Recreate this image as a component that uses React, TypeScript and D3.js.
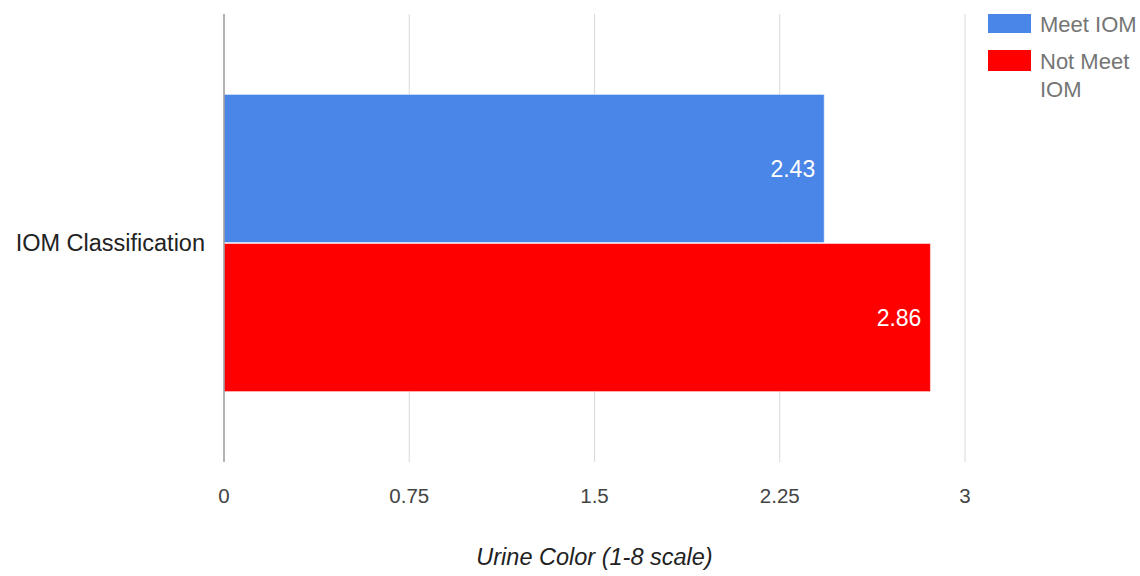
import React from "react";
import * as d3 from "d3";

const categories = ["IOM Classification"];
const seriesNames = ["Meet IOM", "Not Meet IOM"];
const seriesValues = [2.43, 2.86];
const seriesColors = ["#4a86e8", "#ff0000"];
const tickValues = [0, 0.75, 1.5, 2.25, 3];
const xTitle = "Urine Color (1-8 scale)";

const W = 1140;
const H = 576;
const plot = { left: 224, right: 965, top: 14, bottom: 462 };
const FONT = "'Liberation Sans', Arial, sans-serif";

export default function App() {
  const x = d3.scaleLinear().domain([0, 3]).range([plot.left, plot.right]);
  const y = d3
    .scaleBand<string>()
    .domain(categories)
    .range([plot.top, plot.bottom + 10])
    .paddingInner(0)
    .paddingOuter(0.268);
  const inner = d3
    .scaleBand<string>()
    .domain(seriesNames)
    .range([0, y.bandwidth()])
    .padding(0);

  return (
    <svg
      width={W}
      height={H}
      style={{ position: "absolute", left: 0, top: 0, background: "#fff" }}
      fontFamily={FONT}
    >
      {tickValues.map((t) =>
        t === 0 ? null : (
          <line
            key={t}
            x1={x(t)}
            x2={x(t)}
            y1={plot.top}
            y2={plot.bottom}
            stroke="#d9d9d9"
            strokeWidth={1}
          />
        )
      )}
      {categories.map((c) =>
        seriesNames.map((s, i) => {
          const y0 = (y(c) as number) + (inner(s) as number);
          const h = inner.bandwidth();
          const x1 = x(seriesValues[i]);
          return (
            <g key={s}>
              <rect
                x={x(0)}
                y={y0 + 0.5}
                width={x1 - x(0)}
                height={h - 1}
                fill={seriesColors[i]}
                stroke="#ffffff"
                strokeOpacity={0.5}
                strokeWidth={1}
              />
              <text
                x={x1 - 9}
                y={y0 + h / 2}
                dy="0.35em"
                textAnchor="end"
                fill="#ffffff"
                fontSize={23}
              >
                {seriesValues[i].toFixed(2)}
              </text>
            </g>
          );
        })
      )}
      <line
        x1={x(0)}
        x2={x(0)}
        y1={plot.top}
        y2={plot.bottom}
        stroke="#999999"
        strokeWidth={1.5}
      />
      {categories.map((c) => (
        <text
          key={c}
          x={205}
          y={(y(c) as number) + y.bandwidth() / 2}
          dy="0.35em"
          textAnchor="end"
          fill="#222222"
          fontSize={23.5}
        >
          {c}
        </text>
      ))}
      {tickValues.map((t) => (
        <text
          key={t}
          x={x(t)}
          y={503}
          textAnchor="middle"
          fill="#444444"
          fontSize={20.5}
        >
          {String(t)}
        </text>
      ))}
      <text
        x={(plot.left + plot.right) / 2}
        y={565}
        textAnchor="middle"
        fill="#222222"
        fontSize={23.5}
        fontStyle="italic"
      >
        {xTitle}
      </text>
      <g>
        <rect x={988} y={14} width={43} height={19} fill={seriesColors[0]} />
        <text x={1040} y={24} dy="0.35em" fill="#757575" fontSize={22}>
          Meet IOM
        </text>
        <rect x={988} y={50} width={43} height={21} fill={seriesColors[1]} />
        <text x={1040} y={61} dy="0.35em" fill="#757575" fontSize={22}>
          Not Meet
        </text>
        <text x={1040} y={89} dy="0.35em" fill="#757575" fontSize={22}>
          IOM
        </text>
      </g>
    </svg>
  );
}
